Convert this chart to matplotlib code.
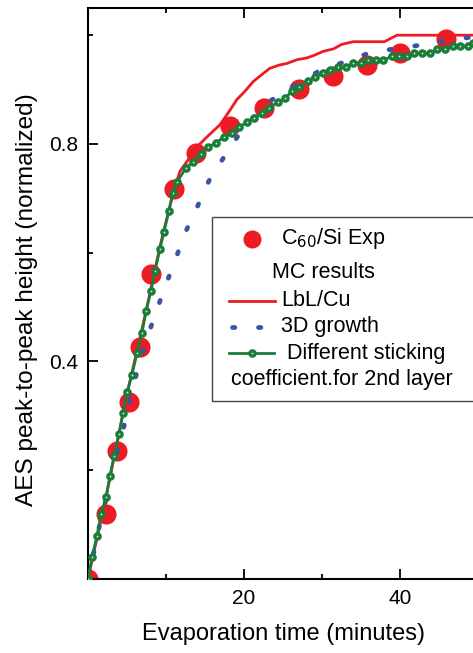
import matplotlib
matplotlib.use("Agg")
import matplotlib.pyplot as plt
from matplotlib.lines import Line2D
from matplotlib.patches import Rectangle
from matplotlib.ticker import MultipleLocator, FixedFormatter, FixedLocator

plt.rcParams['font.family'] = ['Liberation Sans', 'DejaVu Sans']

# ---- data ----
exp_t = [0, 2.3, 3.7, 5.3, 6.7, 8.1, 11.0, 13.8, 18.2, 22.6, 27.0, 31.4, 35.8, 40.0, 45.9]
exp_y = [0.0, 0.119, 0.235, 0.325, 0.426, 0.560, 0.717, 0.783, 0.833, 0.866, 0.901,
         0.925, 0.945, 0.967, 0.993]

lbl_t = [0, 2.3, 5.0, 7.4, 9.2, 10.9, 11.8, 12.8, 14.0, 15.4, 16.9, 18.2, 19.1, 20.0,
         21.2, 22.5, 23.3, 24.5, 25.5, 26.8, 28.0, 29.0, 30.1, 31.5, 32.5, 34.0, 36.0,
         38.0, 39.6, 60.0]
lbl_y = [0.0, 0.15, 0.34, 0.49, 0.61, 0.71, 0.75, 0.77, 0.795, 0.815, 0.835, 0.862,
         0.882, 0.895, 0.915, 0.93, 0.939, 0.945, 0.948, 0.955, 0.958, 0.963, 0.97,
         0.975, 0.983, 0.988, 0.988, 0.988, 1.0, 1.0]

g3d_t = [0, 0.8, 1.5, 2.4, 3.2, 4.0, 4.9, 5.6, 6.5, 7.5, 8.7, 9.9, 11.2, 12.4, 14.0,
         15.5, 17.7, 19.9, 22.9, 26.3, 29.6, 33.1, 36.4, 39.9, 43.2, 46.7, 50.0, 55.0]
g3d_y = [0.0, 0.053, 0.10, 0.152, 0.202, 0.248, 0.297, 0.343, 0.393, 0.44, 0.49, 0.538,
         0.587, 0.635, 0.684, 0.732, 0.782, 0.829, 0.875, 0.906, 0.934, 0.952, 0.969,
         0.976, 0.983, 0.993, 0.997, 1.0]

stick_t = [0, 0.51, 1.15, 1.67, 2.31, 2.82, 3.33, 3.97, 4.49, 5.00, 5.64, 6.28, 6.92,
           7.44, 8.08, 8.59, 9.23, 9.74, 10.38, 10.90, 11.41, 12.56, 13.46, 14.49, 15.38,
           16.41, 17.44, 18.46, 19.36, 20.38, 21.28, 22.31, 23.21, 24.36, 25.26, 26.15,
           27.05, 28.21, 29.10, 30.13, 31.03, 32.05, 33.08, 33.97, 35.00, 35.90, 36.92,
           37.82, 38.97, 39.87, 40.90, 41.79, 42.82, 43.85, 44.74, 45.77, 46.79, 47.69,
           48.72, 49.36, 50.4, 51.4]
stick_y = [0.0, 0.040, 0.079, 0.119, 0.150, 0.189, 0.226, 0.266, 0.306, 0.343, 0.376,
           0.415, 0.453, 0.492, 0.530, 0.567, 0.607, 0.639, 0.677, 0.710, 0.730, 0.756,
           0.767, 0.782, 0.794, 0.802, 0.813, 0.820, 0.831, 0.840, 0.848, 0.857, 0.866,
           0.877, 0.884, 0.897, 0.905, 0.916, 0.923, 0.930, 0.936, 0.941, 0.941, 0.949,
           0.949, 0.954, 0.954, 0.954, 0.961, 0.961, 0.961, 0.967, 0.967, 0.967, 0.974,
           0.974, 0.980, 0.980, 0.980, 0.985, 0.985, 0.985]

RED = "#ed1c24"
BLUE = "#3a54a4"
GREEN = "#1b7d3a"
HILITE = "#d8eed8"
DOTS = (0, (0.5, 5.0))

fig = plt.figure(figsize=(4.73, 6.53), dpi=100)
# axes run past the right edge of the picture, like the cropped original
ax = fig.add_axes([88 / 473, 74 / 653, 468 / 473, 571 / 653])

ax.plot(exp_t, exp_y, "o", color=RED, ms=14.5, mec="none", zorder=2)
ax.plot(lbl_t, lbl_y, "-", color=RED, lw=2.0, zorder=3)
ax.plot(g3d_t, g3d_y, color=BLUE, lw=3.4, linestyle=DOTS,
        dash_capstyle="round", zorder=4)
ax.plot(stick_t, stick_y, "-", color=GREEN, lw=2.0, marker="o", ms=6.2,
        mfc=GREEN, mec="none", zorder=5)
ax.plot(stick_t, stick_y, "o", color=HILITE, ms=1.3, mec="none", zorder=6)

ax.set_xlim(0, 60)
ax.set_ylim(0, 1.05)

ax.xaxis.set_major_locator(FixedLocator([0, 20, 40, 60]))
ax.xaxis.set_major_formatter(FixedFormatter(["", "20", "40", ""]))
ax.xaxis.set_minor_locator(MultipleLocator(10))
ax.yaxis.set_major_locator(FixedLocator([0, 0.4, 0.8]))
ax.yaxis.set_major_formatter(FixedFormatter(["", "0.4", "0.8"]))
ax.yaxis.set_minor_locator(FixedLocator([0.2, 0.6, 1.0]))

ax.tick_params(which="both", direction="in", top=True, right=True, width=1.3,
               labelsize=15, pad=7)
ax.tick_params(which="major", length=7)
ax.tick_params(which="minor", length=3.5)
for s in ax.spines.values():
    s.set_linewidth(1.5)

ax.set_xlabel("Evaporation time (minutes)", fontsize=17)
ax.set_ylabel("AES peak-to-peak height (normalized)", fontsize=17.6)
# the original is cropped on the right, so the labels sit off the axes centre
ax.xaxis.set_label_coords(0.417, -0.077)
ax.yaxis.set_label_coords(-0.107, 0.49)

# ---- hand-made legend box in figure pixels ----
def fx(px):
    return px / 473


def fy(py):
    return 1 - py / 653


LFS = 15.5
fig.patches.append(Rectangle((fx(212), fy(401)), fx(300), fy(217) - fy(401),
                             transform=fig.transFigure, fill=False,
                             edgecolor="#444444", lw=1.0, zorder=10))
tf = fig.transFigure
fig.lines.append(Line2D([fx(252)], [fy(239)], marker="o", ms=13, color=RED,
                        mec="none", transform=tf))
fig.text(fx(281), fy(239), "C$_{60}$/Si Exp", fontsize=LFS, va="center")
fig.text(fx(272), fy(272), "MC results", fontsize=LFS, va="center")
fig.lines.append(Line2D([fx(229), fx(275)], [fy(301), fy(301)], color=RED, lw=2.0,
                        transform=tf))
fig.text(fx(281), fy(301), "LbL/Cu", fontsize=LFS, va="center")
fig.lines.append(Line2D([fx(232), fx(262)], [fy(327), fy(327)], color=BLUE, lw=3.4,
                        linestyle=DOTS, dash_capstyle="round", transform=tf))
fig.text(fx(281), fy(327), "3D growth", fontsize=LFS, va="center")
fig.lines.append(Line2D([fx(229), fx(274)], [fy(353), fy(353)], color=GREEN, lw=2.0,
                        transform=tf))
fig.lines.append(Line2D([fx(251.5)], [fy(353)], marker="o", ms=6.2, color=GREEN,
                        mec="none", transform=tf))
fig.lines.append(Line2D([fx(251.5)], [fy(353)], marker="o", ms=1.3, color=HILITE,
                        mec="none", transform=tf))
fig.text(fx(287), fy(353), "Different sticking", fontsize=LFS, va="center")
fig.text(fx(231), fy(379), "coefficient.for 2nd layer", fontsize=LFS, va="center")

fig.savefig("out.png", dpi=100)
